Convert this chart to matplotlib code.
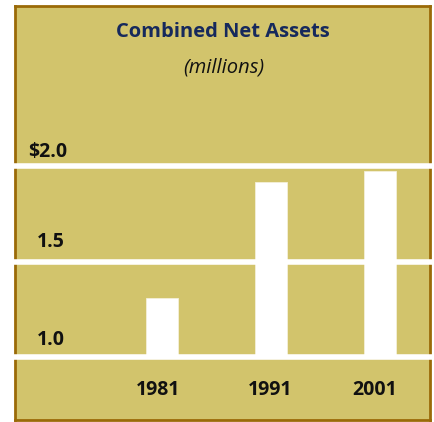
import matplotlib
matplotlib.use("Agg")
import matplotlib.pyplot as plt
import matplotlib.transforms as mtransforms

# ---- data ----
years = ["1981", "1991", "2001"]
net_assets = [1.31, 1.915, 1.975]
tick_values = [1.0, 1.5, 2.0]
tick_labels = ["1.0", "1.5", "$2.0"]
title = "Combined Net Assets"
subtitle = "(millions)"

# ---- style ----
W, H, DPI = 434, 422, 100
bg = "#d2c46c"
border = "#9a6a08"
navy = "#16295c"
plt.rcParams["font.family"] = ["Open Sans", "DejaVu Sans"]

fig = plt.figure(figsize=(W / DPI, H / DPI), dpi=DPI)
fig.patch.set_facecolor("white")

left_px, right_px, top_px, bottom_px = 15, 430, 6, 420
ax = fig.add_axes([left_px / W, (H - bottom_px) / H,
                   (right_px - left_px) / W, (bottom_px - top_px) / H])
ax.set_facecolor(bg)
for s in ax.spines.values():
    s.set_color(border)
    s.set_linewidth(2)
    s.set_zorder(2)

ax.set_xlim(-1.349, 2.459)
ax.set_ylim(0.670, 2.838)
ax.set_xticks([])
ax.set_yticks([])

x = list(range(len(years)))
bottoms = [tick_values[0]] * len(years)
heights = [v - b for v, b in zip(net_assets, bottoms)]
ax.bar(x, heights, bottom=bottoms, width=0.29, color="white",
       edgecolor="#f4f0da", linewidth=0.6, zorder=3)

for v in tick_values:
    ax.axhline(v, color="white", linewidth=4.0, zorder=4, clip_on=False,
               xmin=-0.002, xmax=1.004)

# y tick labels (above gridlines)
tr = mtransforms.blended_transform_factory(ax.transAxes, ax.transData)
label_x = [37, 37, 28]
label_off = [12, 15, 9]
for v, lab, lx, off in zip(tick_values, tick_labels, label_x, label_off):
    ax.text((lx - left_px) / (right_px - left_px), v, lab,
            transform=mtransforms.offset_copy(tr, fig=fig, x=0, y=off * 72 / DPI,
                                              units="points"),
            ha="left", va="baseline", fontsize=14, fontweight="bold",
            color="#111111", zorder=5)

# year labels
xtr = mtransforms.blended_transform_factory(ax.transData, ax.transAxes)
year_dx = [-4, -1, -5]
for xi, yr, dx in zip(x, years, year_dx):
    ax.text(xi, (bottom_px - 390) / (bottom_px - top_px), yr,
            transform=mtransforms.offset_copy(xtr, fig=fig, x=dx * 72 / DPI, y=0,
                                              units="points"),
            ha="center", va="center", fontsize=14, fontweight="bold",
            color="#111111", zorder=5)

fig.text(223 / W, 1 - 32 / H, title, ha="center", va="center",
         fontsize=14.5, fontweight="bold", color=navy)
fig.text(224 / W, 1 - 67 / H, subtitle, ha="center", va="center",
         fontsize=14.5, fontstyle="italic", color="#111111")

fig.savefig("out.png", dpi=DPI, facecolor=fig.get_facecolor())
